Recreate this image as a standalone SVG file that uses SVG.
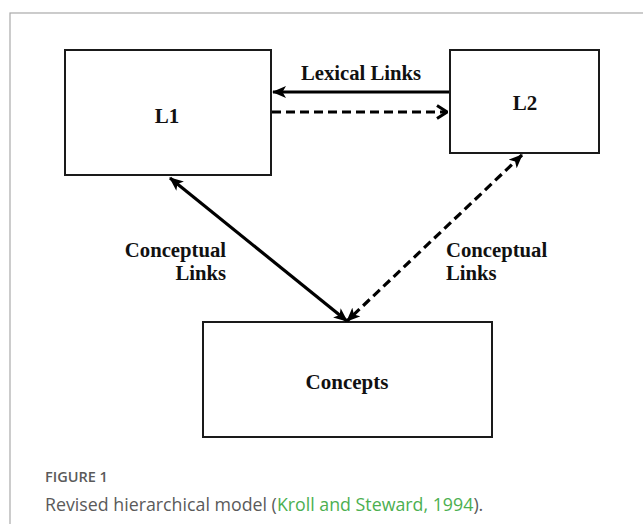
<svg xmlns="http://www.w3.org/2000/svg" width="643" height="524" viewBox="0 0 643 524">
<style>
.box{fill:#fff;stroke:#1a1a1a;stroke-width:2}
.lbl{font-family:"Liberation Serif","Times New Roman",serif;font-weight:bold;font-size:21px;fill:#111}
.sm{font-family:"Liberation Serif","Times New Roman",serif;font-weight:bold;font-size:20.7px;fill:#111}
.ln{stroke:#000;stroke-width:3.2;fill:none}
.dash{stroke-dasharray:9 5}
.cap{font-family:"Open Sans","Noto Sans",sans-serif;fill:#5a5a5a}
</style>
<defs>
<marker id="ah" viewBox="0 0 14 12" refX="13" refY="6" markerWidth="14" markerHeight="12" markerUnits="userSpaceOnUse" orient="auto-start-reverse">
<path d="M0,0 L14,6 L0,12 L3.5,6 Z" fill="#000"/>
</marker>
<marker id="chev" viewBox="0 0 12 16" refX="11" refY="8" markerWidth="12" markerHeight="16" markerUnits="userSpaceOnUse" orient="auto">
<path d="M1,1.5 L11,8 L1,14.5" fill="none" stroke="#000" stroke-width="3"/>
</marker>
</defs>
<rect x="10" y="13" width="660" height="540" fill="none" stroke="#aaa" stroke-width="1.2"/>
<g id="L1"><rect class="box" x="65" y="50" width="206" height="125"/><text class="lbl" x="167" y="123" text-anchor="middle">L1</text></g>
<g id="L2"><rect class="box" x="450" y="50" width="149" height="103"/><text class="lbl" x="525" y="110" text-anchor="middle">L2</text></g>
<g id="Concepts"><rect class="box" x="203" y="322" width="289" height="115"/><text class="lbl" x="347" y="389" text-anchor="middle">Concepts</text></g>
<g id="connectors">
<line class="ln" x1="449" y1="92" x2="273" y2="92" marker-end="url(#ah)"/>
<line class="ln dash" x1="272" y1="112" x2="447" y2="112" marker-end="url(#chev)"/>
<line class="ln" x1="170" y1="178" x2="347" y2="321" marker-start="url(#ah)" marker-end="url(#ah)"/>
<line class="ln dash" x1="522" y1="155" x2="347" y2="321" marker-start="url(#ah)" marker-end="url(#ah)"/>
<text class="sm" x="361" y="80" text-anchor="middle">Lexical Links</text>
<text class="sm" x="226" y="257" text-anchor="end">Conceptual</text>
<text class="sm" x="226" y="280" text-anchor="end">Links</text>
<text class="sm" x="446" y="257">Conceptual</text>
<text class="sm" x="446" y="280">Links</text>
</g>
<text class="cap" x="45" y="482" font-size="14.5" font-weight="600">FIGURE 1</text>
<text class="cap" x="45" y="511" font-size="17.8">Revised hierarchical model (<tspan fill="#4caf50">Kroll and Steward, 1994</tspan>).</text>
</svg>
